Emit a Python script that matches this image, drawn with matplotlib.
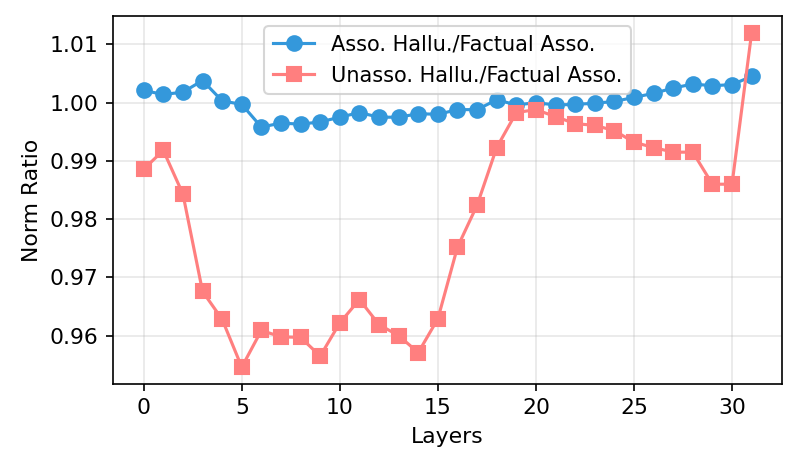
import matplotlib
matplotlib.use("Agg")
import matplotlib.pyplot as plt

layers = list(range(32))
asso_ratio = [1.0021, 1.0014, 1.0018, 1.0038, 1.0003, 0.9997, 0.9958, 0.9965,
              0.9963, 0.9967, 0.9975, 0.9983, 0.9975, 0.9975, 0.9981, 0.9980,
              0.9988, 0.9988, 1.0005, 0.9996, 1.0000, 0.9996, 0.9997, 0.9999,
              1.0002, 1.0009, 1.0016, 1.0025, 1.0032, 1.0029, 1.0031, 1.0045]
unasso_ratio = [0.9886, 0.9918, 0.9843, 0.9676, 0.9628, 0.9546, 0.9609, 0.9598,
                0.9597, 0.9565, 0.9622, 0.9662, 0.9619, 0.9600, 0.9571, 0.9629,
                0.9752, 0.9824, 0.9923, 0.9983, 0.9988, 0.9976, 0.9964, 0.9961,
                0.9952, 0.9932, 0.9923, 0.9915, 0.9915, 0.9860, 0.9860, 1.0120]

fig, ax = plt.subplots(figsize=(5.32, 3.14), dpi=150)
ax.plot(layers, asso_ratio, marker='o', markersize=7, color='#3498db',
        linewidth=1.5, label='Asso. Hallu./Factual Asso.')
ax.plot(layers, unasso_ratio, marker='s', markersize=7, color='#ff7f7f',
        linewidth=1.5, label='Unasso. Hallu./Factual Asso.')

ax.set_xlabel('Layers', fontsize=10.5)
ax.set_ylabel('Norm Ratio', fontsize=10.5)
ax.tick_params(labelsize=10.5)
ax.grid(True, alpha=0.3)
ax.legend(loc='upper center', fontsize=10)

plt.subplots_adjust(left=0.142, right=0.98, top=0.966, bottom=0.185)
plt.savefig('out.png', dpi=150)
